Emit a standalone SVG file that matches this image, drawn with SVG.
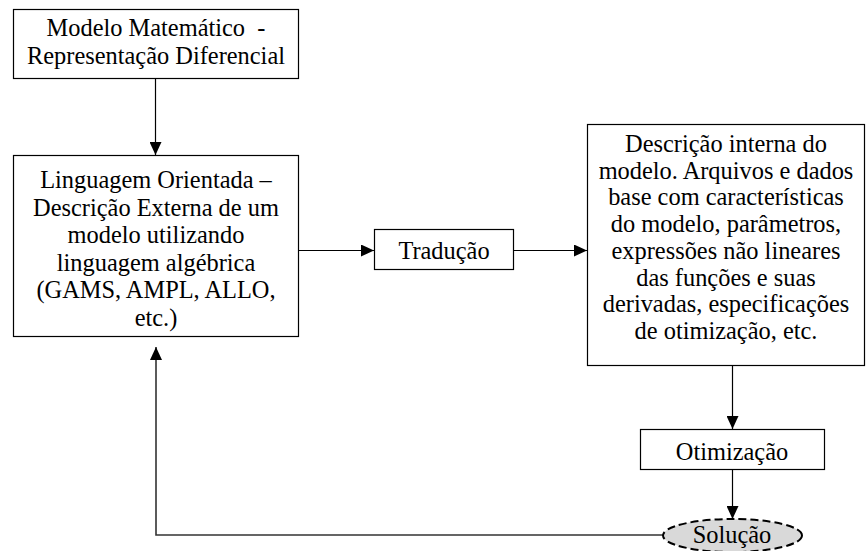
<svg xmlns="http://www.w3.org/2000/svg" width="866" height="551" viewBox="0 0 866 551">
  <style>
    .box { fill: #ffffff; stroke: #000000; stroke-width: 1.2; }
    .lbl { font-family: "Liberation Serif", "Times New Roman", serif; font-size: 24.4px; fill: #000000; text-anchor: middle; }
    .edge { fill: none; stroke: #000000; stroke-width: 1.2; }
    .ret { fill: none; stroke: #333333; stroke-width: 1.6; }
    .oval { fill: #d9d9d9; stroke: #000000; stroke-width: 2; stroke-dasharray: 8 4; }
  </style>
  <defs>
    <marker id="arrow" viewBox="0 0 13 12" refX="13" refY="6" markerWidth="13" markerHeight="12" markerUnits="userSpaceOnUse" orient="auto">
      <path d="M0,0 L13,6 L0,12 Z" fill="#000000"/>
    </marker>
  </defs>

  <!-- connectors -->
  <g id="connectors">
    <line class="edge" x1="155.5" y1="79" x2="155.5" y2="155" marker-end="url(#arrow)"/>
    <line class="edge" x1="299" y1="250.5" x2="374" y2="250.5" marker-end="url(#arrow)"/>
    <line class="edge" x1="514" y1="250.5" x2="587" y2="250.5" marker-end="url(#arrow)"/>
    <line class="edge" x1="732.5" y1="366" x2="732.5" y2="429" marker-end="url(#arrow)"/>
    <line class="edge" x1="732.5" y1="470" x2="732.5" y2="519" marker-end="url(#arrow)"/>
    <polyline class="ret" points="663,535 156,535 156,347" marker-end="url(#arrow)"/>
  </g>

  <!-- mathematical model -->
  <g id="modelo-matematico">
    <rect class="box" x="13.5" y="9.5" width="285" height="69"/>
    <text class="lbl" x="156" y="36" xml:space="preserve">Modelo Matemático  -</text>
    <text class="lbl" x="156" y="64">Representação Diferencial</text>
  </g>

  <!-- modelling language -->
  <g id="linguagem-orientada">
    <rect class="box" x="13.5" y="155.5" width="285" height="181"/>
    <text class="lbl" x="156" y="188">Linguagem Orientada –</text>
    <text class="lbl" x="156" y="215.6">Descrição Externa de um</text>
    <text class="lbl" x="156" y="243.2">modelo utilizando</text>
    <text class="lbl" x="156" y="270.8">linguagem algébrica</text>
    <text class="lbl" x="156" y="298.4">(GAMS, AMPL, ALLO,</text>
    <text class="lbl" x="156" y="326">etc.)</text>
  </g>

  <!-- translation -->
  <g id="traducao">
    <rect class="box" x="374.5" y="229.5" width="139" height="40"/>
    <text class="lbl" x="444" y="259">Tradução</text>
  </g>

  <!-- internal description -->
  <g id="descricao-interna">
    <rect class="box" x="587.5" y="124.5" width="277" height="241"/>
    <text class="lbl" x="726" y="152">Descrição interna do</text>
    <text class="lbl" x="726" y="178.7">modelo. Arquivos e dados</text>
    <text class="lbl" x="726" y="205.4">base com características</text>
    <text class="lbl" x="726" y="232.1">do modelo, parâmetros,</text>
    <text class="lbl" x="726" y="258.8">expressões não lineares</text>
    <text class="lbl" x="726" y="285.5">das funções e suas</text>
    <text class="lbl" x="726" y="312.2">derivadas, especificações</text>
    <text class="lbl" x="726" y="338.9">de otimização, etc.</text>
  </g>

  <!-- optimisation -->
  <g id="otimizacao">
    <rect class="box" x="640.5" y="429.5" width="184" height="40"/>
    <text class="lbl" x="732" y="460">Otimização</text>
  </g>

  <!-- solution -->
  <g id="solucao">
    <ellipse class="oval" cx="732.5" cy="535.5" rx="69.5" ry="16.5"/>
    <text class="lbl" x="732" y="543">Solução</text>
  </g>
</svg>
